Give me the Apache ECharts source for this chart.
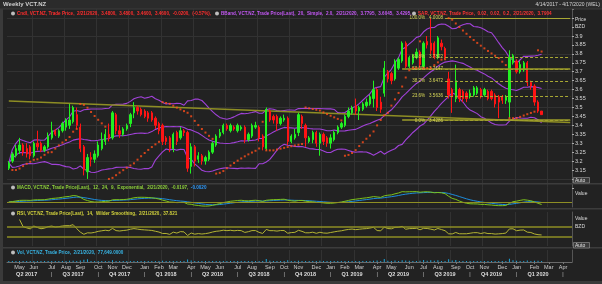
<!DOCTYPE html>
<html>
<head>
<meta charset="utf-8">
<script src="https://cdn.jsdelivr.net/npm/echarts@6.0.0/dist/echarts.min.js"></script>
<style>
html,body{margin:0;padding:0;background:#222;overflow:hidden}
#chart{width:602px;height:284px}
</style>
</head>
<body>
<div id="chart"></div>
<script>
// ---------------- data ----------------
const axisWeeks = 158; // 4/14/2017 .. 4/17/2020 weekly
const opens = [3.16,3.20,3.23,3.26,3.29,3.27,3.28,3.23,3.30,3.30,
3.26,3.28,3.33,3.37,3.34,3.37,3.39,3.40,3.42,3.46,
3.39,3.28,3.14,3.22,3.21,3.23,3.27,3.31,3.35,3.33,
3.46,3.37,3.35,3.38,3.41,3.47,3.50,3.49,3.48,3.47,
3.47,3.44,3.41,3.40,3.33,3.33,3.27,3.36,3.33,3.37,
3.36,3.17,3.28,3.21,3.23,3.20,3.21,3.25,3.29,3.34,
3.36,3.40,3.37,3.39,3.37,3.38,3.39,3.32,3.34,3.39,
3.39,3.34,3.27,3.48,3.45,3.45,3.41,3.43,3.44,3.31,
3.33,3.36,3.45,3.40,3.31,3.32,3.36,3.30,3.35,3.33,
3.30,3.32,3.36,3.39,3.40,3.45,3.47,3.51,3.48,3.49,
3.51,3.52,3.55,3.60,3.53,3.58,3.70,3.69,3.66,3.72,
3.76,3.86,3.73,3.75,3.78,3.81,3.73,3.87,3.86,3.86,
3.78,3.86,3.83,3.66,3.60,3.55,3.60,3.59,3.58,3.56,
3.57,3.58,3.60,3.57,3.59,3.59,3.57,3.56,3.56,3.54,
3.53,3.75,3.76,3.70,3.71,3.75,3.64,3.62,3.53,3.48];
const closes = [3.19,3.24,3.27,3.29,3.25,3.24,3.23,3.30,3.28,3.26,
3.28,3.34,3.37,3.35,3.37,3.41,3.43,3.43,3.50,3.40,
3.27,3.15,3.22,3.21,3.24,3.29,3.32,3.35,3.33,3.47,
3.37,3.35,3.38,3.40,3.46,3.50,3.48,3.46,3.45,3.44,
3.43,3.40,3.37,3.31,3.31,3.27,3.35,3.31,3.37,3.36,
3.16,3.28,3.20,3.23,3.20,3.22,3.25,3.30,3.34,3.36,
3.40,3.38,3.40,3.38,3.40,3.39,3.32,3.35,3.40,3.40,
3.33,3.28,3.49,3.43,3.43,3.41,3.44,3.44,3.31,3.34,
3.35,3.46,3.41,3.33,3.33,3.36,3.30,3.35,3.31,3.30,
3.33,3.36,3.39,3.41,3.45,3.48,3.50,3.48,3.50,3.52,
3.53,3.56,3.60,3.50,3.49,3.72,3.66,3.65,3.76,3.77,
3.86,3.73,3.78,3.79,3.81,3.74,3.86,3.85,3.82,3.78,
3.89,3.84,3.78,3.57,3.56,3.65,3.55,3.55,3.55,3.58,
3.61,3.61,3.56,3.60,3.55,3.55,3.52,3.53,3.54,3.56,
3.78,3.79,3.70,3.74,3.75,3.64,3.62,3.53,3.48,3.46];
const lows = [3.15,3.19,3.22,3.24,3.23,3.22,3.21,3.22,3.26,3.25,
3.25,3.27,3.32,3.34,3.33,3.36,3.37,3.38,3.41,3.38,
3.25,3.12,3.10,3.17,3.19,3.22,3.26,3.29,3.31,3.32,
3.35,3.33,3.34,3.37,3.39,3.44,3.46,3.45,3.44,3.42,
3.42,3.38,3.35,3.29,3.29,3.25,3.25,3.29,3.32,3.34,
3.14,3.13,3.17,3.19,3.18,3.18,3.20,3.24,3.28,3.33,
3.35,3.37,3.36,3.37,3.36,3.37,3.30,3.31,3.33,3.38,
3.31,3.26,3.26,3.42,3.41,3.37,3.40,3.42,3.29,3.30,
3.32,3.34,3.38,3.28,3.30,3.30,3.28,3.23,3.29,3.28,
3.27,3.31,3.35,3.38,3.39,3.44,3.46,3.46,3.43,3.48,
3.50,3.51,3.50,3.48,3.47,3.56,3.64,3.63,3.65,3.71,
3.75,3.72,3.72,3.74,3.77,3.72,3.72,3.83,3.80,3.77,
3.77,3.82,3.77,3.55,3.47,3.53,3.53,3.53,3.53,3.55,
3.56,3.57,3.55,3.56,3.54,3.54,3.50,3.44,3.52,3.52,
3.44,3.74,3.69,3.69,3.70,3.62,3.60,3.51,3.47,3.46];
const highs = [3.20,3.25,3.29,3.33,3.30,3.30,3.29,3.31,3.37,3.31,
3.29,3.36,3.42,3.38,3.38,3.42,3.44,3.52,3.51,3.50,
3.41,3.29,3.24,3.25,3.26,3.31,3.36,3.38,3.41,3.48,
3.47,3.40,3.39,3.41,3.47,3.53,3.51,3.50,3.49,3.48,
3.48,3.45,3.42,3.41,3.34,3.34,3.36,3.37,3.39,3.38,
3.37,3.30,3.29,3.25,3.24,3.23,3.26,3.31,3.35,3.38,
3.41,3.41,3.41,3.40,3.41,3.40,3.40,3.36,3.41,3.42,
3.40,3.35,3.50,3.49,3.46,3.46,3.45,3.46,3.45,3.35,
3.38,3.47,3.46,3.41,3.34,3.37,3.37,3.36,3.36,3.34,
3.35,3.37,3.40,3.42,3.46,3.50,3.51,3.55,3.51,3.53,
3.55,3.57,3.65,3.61,3.56,3.76,3.71,3.70,3.77,3.78,
3.87,3.87,3.79,3.80,3.83,3.82,3.87,3.90,4.00,3.87,
3.90,3.88,3.84,3.70,3.61,3.74,3.61,3.60,3.59,3.60,
3.62,3.62,3.61,3.61,3.60,3.60,3.58,3.57,3.57,3.57,
3.82,3.80,3.77,3.76,3.76,3.76,3.65,3.63,3.54,3.48];
const volumes = [62000,85000,70000,95000,54000,48000,60000,110000,75000,52000,
40000,90000,120000,65000,58000,80000,72000,140000,150000,98000,
180000,260000,310000,120000,70000,85000,90000,76000,64000,190000,
130000,88000,60000,72000,95000,110000,70000,55000,48000,52000,
60000,75000,120000,140000,68000,90000,100000,66000,80000,50000,
280000,170000,110000,70000,62000,58000,75000,90000,105000,80000,
86000,54000,60000,48000,52000,66000,115000,72000,88000,60000,
95000,120000,340000,150000,85000,92000,70000,64000,200000,110000,
78000,160000,96000,130000,84000,70000,98000,140000,76000,68000,
82000,90000,104000,96000,118000,126000,110000,95000,88000,100000,
92000,108000,150000,170000,120000,360000,160000,130000,170000,120000,
210000,180000,140000,110000,125000,150000,230000,160000,190000,150000,
200000,130000,115000,320000,180000,240000,130000,100000,95000,85000,
90000,80000,96000,78000,84000,92000,110000,86000,120000,98000,
380000,200000,150000,120000,110000,170000,130000,160000,140000,77649];

const monthNames = ['Jan','Feb','Mar','Apr','May','Jun','Jul','Aug','Sep','Oct','Nov','Dec'];
const quarterNames = ['Q2 2017','Q3 2017','Q4 2017','Q1 2018','Q2 2018','Q3 2018','Q4 2018','Q1 2019','Q2 2019','Q3 2019','Q4 2019','Q1 2020'];
const fibLabels = ['100.0%','61.8%','50.0%','38.2%','23.6%','0.0%'];
const fibPrices = [4.0008,3.7822,3.7147,3.6472,3.5636,3.4286];
const trendPrices = [3.536,3.416];
const priceTags = [3.7904,3.7795,3.6045,3.4600,3.4295];
const macdTags = [-0.0020,-0.0197];
const rsiTag = 37.821;
const volTag = 77649;

const legendCndl = 'Cndl, VCT.NZ, Trade Price,  2/21/2020,  3.4800,  3.4800,  3.4600,  3.4600,  -0.0200,  (-0.57%),';
const legendBB = 'BBand, VCT.NZ, Trade Price(Last),  20,  Simple,  2.0,  2/21/2020,  3.7795,  3.6045,  3.4295,';
const legendSAR = 'SAR, VCT.NZ, Trade Price,  0.02,  0.02,  0.2,  2/21/2020,  3.7904';
const legendMACD = 'MACD, VCT.NZ, Trade Price(Last),  12,  24,  9,  Exponential,  2/21/2020,  -0.0197,  ';
const legendSig = '-0.0020';
const legendRSI = 'RSI, VCT.NZ, Trade Price(Last),  14,  Wilder Smoothing,  2/21/2020,  37.821';
const legendVol = 'Vol, VCT.NZ, Trade Price,  2/21/2020,  77,649.0000';

// ---------------- categories ----------------
const DAY = 86400000, t0 = Date.UTC(2017,3,14);
const dates = [], dObj = [];
for (let i=0;i<axisWeeks;i++){const d=new Date(t0+i*7*DAY);dObj.push(d);dates.push(d.toISOString().slice(0,10));}
const monthStart = new Set();
for (let i=1;i<axisWeeks;i++){ if (dObj[i].getUTCMonth()!==dObj[i-1].getUTCMonth()) monthStart.add(i); }
const quarterStart = new Set([...monthStart].filter(i=>dObj[i].getUTCMonth()%3===0));
const quarterMid = new Map();
quarterNames.forEach((q,k)=>{
  const mAbs = 3+3*k; const y = 2017+Math.floor(mAbs/12), m = mAbs%12;
  const mid = Date.UTC(y,m,1)+45*DAY;
  quarterMid.set(Math.round((mid-t0)/(7*DAY)), q);
});

// ---------------- indicators derived from the candles ----------------
const bbU=[],bbM=[],bbL=[];
closes.forEach((c,i)=>{
  const w=closes.slice(Math.max(0,i-19),i+1);
  const m=w.reduce((a,b)=>a+b,0)/w.length;
  const sd=Math.sqrt(w.reduce((a,b)=>a+(b-m)*(b-m),0)/w.length);
  bbM.push(m);bbU.push(m+2*sd);bbL.push(m-2*sd);
});
function ema(arr,n){const k=2/(n+1);const out=[];arr.forEach((v,i)=>out.push(i?v*k+out[i-1]*(1-k):v));return out;}
const e12=ema(closes,12), e24=ema(closes,24);
const macd=closes.map((c,i)=>e12[i]-e24[i]);
const signal=ema(macd,9);
const rsi=[null];
{let ag=0,al=0;
 for(let i=1;i<closes.length;i++){
  const ch=closes[i]-closes[i-1];const g=Math.max(ch,0),l=Math.max(-ch,0);
  if(i<=14){ag=(ag*(i-1)+g)/i;al=(al*(i-1)+l)/i;}else{ag=(ag*13+g)/14;al=(al*13+l)/14;}
  rsi.push(i<3?null:(al===0?100:100-100/(1+ag/al)));
 }}
function psar(h,l,step,maxAf){
  const n=h.length,out=[null];
  let up=closes[1]>=closes[0],af=step,ep=up?h[0]:l[0],sar=up?l[0]:h[0];
  for(let i=1;i<n;i++){
    sar=sar+af*(ep-sar);
    if(up){
      sar=Math.min(sar,l[i-1],i>1?l[i-2]:l[i-1]);
      if(l[i]<sar){up=false;sar=ep;ep=l[i];af=step;}
      else if(h[i]>ep){ep=h[i];af=Math.min(af+step,maxAf);}
    }else{
      sar=Math.max(sar,h[i-1],i>1?h[i-2]:h[i-1]);
      if(h[i]>sar){up=true;sar=ep;ep=h[i];af=step;}
      else if(l[i]<ep){ep=l[i];af=Math.min(af+step,maxAf);}
    }
    out.push(sar);
  }
  return out;
}
const sar=psar(highs,lows,0.02,0.2);

// ---------------- chart ----------------
const FONT='Liberation Sans';
const LFS=4.6;
const gridLine='#323232';
const olive='#8e8e24';
const vLine=(i)=>i%9===7;
function catAxis(gi,extra){
  return Object.assign({type:'category',gridIndex:gi,data:dates,boundaryGap:true,
    axisLine:{show:false},axisTick:{show:false},axisLabel:{show:false},
    splitLine:{show:true,interval:vLine,lineStyle:{color:gridLine,width:1}}},extra||{});
}
function hiddenY(gi,min,max){
  return {type:'value',gridIndex:gi,position:'right',min:min,max:max,
    axisLine:{show:true,lineStyle:{color:'#555'}},axisTick:{show:false},axisLabel:{show:false},splitLine:{show:false}};
}
function tag(val,text,bg,offY,w){
  return {yAxis:val,lineStyle:{width:0,opacity:0},
    label:{show:true,position:'end',distance:1,offset:[0,offY||0],formatter:text,
      backgroundColor:bg,color:'#111',fontSize:5,fontFamily:FONT,padding:[1,1,1,2],width:w||24,height:5,lineHeight:5}};
}
function legendTitle(left,top,segs){
  const rich={ic:{width:4,height:4,backgroundColor:'#bdbdbd',borderRadius:2}};
  let text='{ic|}';
  segs.forEach((s,k)=>{rich['s'+k]={color:s[1],fontSize:LFS,fontFamily:FONT,padding:[0,0,0,k===0?2:0]};text+='{s'+k+'|'+s[0]+'}';});
  return {left:left,top:top,padding:0,text:text,textStyle:{rich:rich,fontSize:LFS}};
}

const fibMarks=[];
fibPrices.forEach((p,k)=>{
  fibMarks.push([{coord:[dates[122],p],lineStyle:{type:k===0?'solid':[3,2],color:'#a8a834',width:1},
    label:{show:true,position:'start',distance:2,formatter:fibLabels[k]+'   '+p.toFixed(4),color:'#d8d858',fontSize:LFS,fontFamily:FONT}},
    {coord:[dates[axisWeeks-1],p]}]);
});
[2,5].forEach(k=>{
  fibMarks.push([{coord:[dates[110],fibPrices[k]],lineStyle:{type:'solid',color:'#9c9c2a',width:1.5},label:{show:false}},
    {coord:[dates[axisWeeks-1],fibPrices[k]]}]);
});

const option={
  backgroundColor:'#222222',
  animation:false,
  textStyle:{fontFamily:FONT},
  title:[
    {left:3,top:1.5,padding:0,text:'Weekly VCT.NZ',textStyle:{color:'#cfcfcf',fontSize:6,fontWeight:'bold',fontFamily:FONT}},
    {right:2,top:2.5,padding:0,text:'4/14/2017 - 4/17/2020 (WEL)',textStyle:{color:'#d4d4d4',fontSize:5,fontWeight:'normal',fontFamily:FONT}},
    legendTitle(11,11,[[legendCndl,'#ff2d2d']]),
    legendTitle(215,11,[[legendBB,'#c458f5']]),
    legendTitle(412,11,[[legendSAR,'#ff3434']]),
    legendTitle(11,185,[[legendMACD,'#8fd23c'],[legendSig,'#2d9cff']]),
    legendTitle(11,211,[[legendRSI,'#d2d23c']]),
    legendTitle(11,250,[[legendVol,'#38b6e6']])
  ],
  grid:[
    {left:7,right:30,top:9.2,height:178.7},
    {left:7,right:30,top:188,height:19},
    {left:7,right:30,top:212,height:34},
    {left:7,right:30,top:250,height:12}
  ],
  xAxis:[
    catAxis(0),catAxis(1),catAxis(2),
    catAxis(3,{axisLine:{show:true,lineStyle:{color:'#6a6a6a'}},
      axisTick:{show:true,interval:(i)=>monthStart.has(i),alignWithLabel:true,length:2,lineStyle:{color:'#777'}},
      axisLabel:{show:true,interval:(i)=>monthStart.has(i),margin:2,fontSize:5.5,color:'#cfcfcf',fontFamily:FONT,
        formatter:(v)=>monthNames[new Date(v+'T00:00:00Z').getUTCMonth()]}}),
    {type:'category',gridIndex:3,data:dates,boundaryGap:true,position:'bottom',offset:7,
      axisLine:{show:false},axisTick:{show:false},splitLine:{show:false},
      axisLabel:{show:true,interval:(i)=>quarterMid.has(i),margin:2,fontSize:5.5,fontWeight:'bold',color:'#dcdcdc',fontFamily:FONT,
        formatter:(v,i)=>quarterMid.get(i)||''}},
    {type:'category',gridIndex:3,data:dates,boundaryGap:true,position:'bottom',offset:7,
      axisLine:{show:false},axisTick:{show:false},splitLine:{show:false},
      axisLabel:{show:true,interval:(i)=>quarterStart.has(i),margin:2,fontSize:5.5,color:'#bbbbbb',fontFamily:FONT,
        formatter:()=>'|'}}
  ],
  yAxis:[
    {type:'value',gridIndex:0,position:'right',min:3.05,max:4.05,interval:0.05,
      axisLine:{show:true,lineStyle:{color:'#555'}},
      axisTick:{show:true,length:2,lineStyle:{color:'#aaa'}},
      axisLabel:{show:true,margin:3,fontSize:5.5,color:'#d8d8d8',fontFamily:FONT,
        formatter:(v)=>(v>3.149&&v<3.901)?String(+v.toFixed(2)):''},
      splitLine:{show:true,lineStyle:{color:['rgba(0,0,0,0)',gridLine],width:1}}},
    hiddenY(1,-0.0435,0.1217),
    hiddenY(2,-6,130),
    hiddenY(3,0,1400000)
  ],
  series:[
    {type:'candlestick',xAxisIndex:0,yAxisIndex:0,barWidth:1.8,z:5,
      data:closes.map((c,i)=>[opens[i],c,lows[i],highs[i]]),
      itemStyle:{color:'#22f022',color0:'#ff1414',borderColor:'#22f022',borderColor0:'#ff1414',borderWidth:1},
      markLine:{symbol:'none',silent:true,animation:false,z:6,
        data:fibMarks.concat([
          tag(priceTags[0],priceTags[0].toFixed(4),'#ff4a0a',-4.5),
          tag(priceTags[1],priceTags[1].toFixed(4),'#c24ef5',0),
          tag(priceTags[2],priceTags[2].toFixed(4),'#c24ef5',0),
          tag(priceTags[3],priceTags[3].toFixed(4),'#ff1a1a',-1.5),
          tag(priceTags[4],priceTags[4].toFixed(4),'#c24ef5',0)
        ])}},
    {type:'line',xAxisIndex:0,yAxisIndex:0,data:bbU,showSymbol:false,lineStyle:{color:'#a042d8',width:1.1},z:3},
    {type:'line',xAxisIndex:0,yAxisIndex:0,data:bbM,showSymbol:false,lineStyle:{color:'#a042d8',width:1.1},z:3},
    {type:'line',xAxisIndex:0,yAxisIndex:0,data:bbL,showSymbol:false,lineStyle:{color:'#a042d8',width:1.1},z:3},
    {type:'line',xAxisIndex:0,yAxisIndex:0,data:[[dates[0],trendPrices[0]],[dates[axisWeeks-1],trendPrices[1]]],
      showSymbol:false,lineStyle:{color:olive,width:1.6},z:4},
    {type:'scatter',xAxisIndex:0,yAxisIndex:0,data:sar,symbol:'rect',symbolSize:[2,2],itemStyle:{color:'#ff4d1a'},z:7},
    {type:'line',xAxisIndex:1,yAxisIndex:1,data:macd,showSymbol:false,lineStyle:{color:'#7cc21c',width:1},z:4,
      markLine:{symbol:'none',silent:true,data:[
        {yAxis:0,lineStyle:{color:olive,width:1,type:'solid'},label:{show:false}},
        tag(macdTags[1],Math.abs(macdTags[1]).toFixed(4),'#8fd400',0.5)]}},
    {type:'line',xAxisIndex:1,yAxisIndex:1,data:signal,showSymbol:false,lineStyle:{color:'#1d8cdc',width:1},z:3,
      markLine:{symbol:'none',silent:true,data:[tag(macdTags[0],Math.abs(macdTags[0]).toFixed(4),'#1e9be6',-4)]}},
    {type:'line',xAxisIndex:2,yAxisIndex:2,data:rsi,showSymbol:false,lineStyle:{color:'#b4b432',width:1},z:4,
      markLine:{symbol:'none',silent:true,data:[
        {yAxis:70,lineStyle:{color:olive,width:1.5,type:'solid'},label:{show:false}},
        {yAxis:30,lineStyle:{color:olive,width:1.5,type:'solid'},label:{show:false}},
        tag(rsiTag,rsiTag.toFixed(3),'#f0f000',0)]}},
    {type:'bar',xAxisIndex:3,yAxisIndex:3,data:volumes,barWidth:1,barMinHeight:1,itemStyle:{color:'#1ba6dc'},
      markLine:{symbol:'none',silent:true,data:[tag(volTag,volTag.toLocaleString('en-US')+'.0000','#1ec0f0',-2.5,27)]}}
  ],
  graphic:[
    {type:'rect',z:-10,shape:{x:0,y:0,width:602,height:9},style:{fill:'#2b2b2b'}},
    {type:'line',z:50,shape:{x1:0,y1:9,x2:602,y2:9},style:{stroke:'#3c3c3c',lineWidth:1}},
    {type:'rect',z:50,shape:{x:0,y:9,width:3,height:275},style:{fill:'#3a3a3a'}},
    {type:'rect',z:50,shape:{x:0,y:281,width:602,height:3},style:{fill:'#3a3a3a'}},
    {type:'rect',z:50,shape:{x:3,y:183,width:599,height:1.5},style:{fill:'#3c3c3c'}},
    {type:'rect',z:50,shape:{x:3,y:208,width:599,height:1.5},style:{fill:'#3c3c3c'}},
    {type:'rect',z:50,shape:{x:3,y:247,width:599,height:1.5},style:{fill:'#3c3c3c'}},
    {type:'text',z:60,x:575,y:17,style:{text:'Price',fill:'#dcdcdc',fontSize:5,fontFamily:FONT}},
    {type:'text',z:60,x:575,y:24,style:{text:'BZD',fill:'#dcdcdc',fontSize:5,fontFamily:FONT}},
    {type:'text',z:60,x:575,y:191,style:{text:'Value',fill:'#dcdcdc',fontSize:5,fontFamily:FONT}},
    {type:'text',z:60,x:575,y:216,style:{text:'Value',fill:'#dcdcdc',fontSize:5,fontFamily:FONT}},
    {type:'text',z:60,x:575,y:224,style:{text:'BZD',fill:'#dcdcdc',fontSize:5,fontFamily:FONT}},
    {type:'rect',z:60,shape:{x:573.5,y:177.5,width:16,height:5.5},style:{fill:'#3a3a3a',stroke:'#9a9a9a',lineWidth:0.6}},
    {type:'text',z:61,x:575,y:178,style:{text:'Auto',fill:'#e0e0e0',fontSize:5,fontFamily:FONT}},
    {type:'rect',z:60,shape:{x:573.5,y:242.5,width:16,height:5.5},style:{fill:'#3a3a3a',stroke:'#9a9a9a',lineWidth:0.6}},
    {type:'text',z:61,x:575,y:243,style:{text:'Auto',fill:'#e0e0e0',fontSize:5,fontFamily:FONT}}
  ]
};
const chart=echarts.init(document.getElementById('chart'),null,{renderer:'canvas',width:602,height:284});
chart.setOption(option);
</script>
</body>
</html>
